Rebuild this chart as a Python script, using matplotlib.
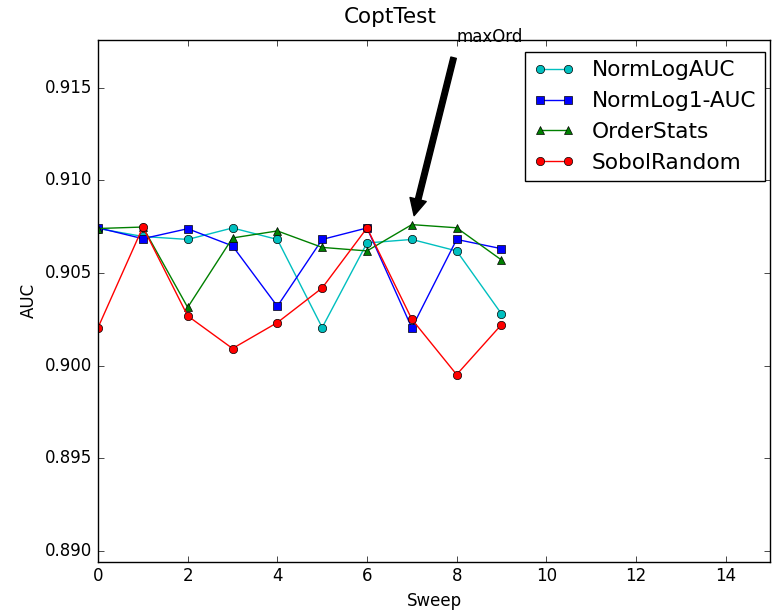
import numpy as np
import matplotlib
matplotlib.use("Agg")
import matplotlib.pyplot as plt

plt.style.use("classic")

sweep = list(range(10))
norm_log_auc = [0.9074, 0.90697, 0.90681, 0.90743, 0.90681, 0.90205, 0.90662, 0.90681, 0.90619, 0.90279]
norm_log1_auc = [0.90744, 0.90685, 0.90739, 0.90646, 0.9032, 0.90681, 0.90743, 0.90203, 0.90681, 0.90631]
order_stats = [0.9074, 0.90748, 0.90314, 0.90689, 0.90727, 0.90638, 0.90619, 0.90761, 0.90744, 0.9057]
sobol_random = [0.90205, 0.90748, 0.90268, 0.90092, 0.90232, 0.90419, 0.90743, 0.9025, 0.89951, 0.90221]

fig = plt.figure(figsize=(7.72, 6.10), dpi=100, facecolor="white")
ax = fig.add_axes([0.127, 0.079, 0.871, 0.856])

ax.plot(sweep, norm_log_auc, "c-o", label="NormLogAUC")
ax.plot(sweep, norm_log1_auc, "b-s", label="NormLog1-AUC")
ax.plot(sweep, order_stats, "g-^", label="OrderStats")
ax.plot(sweep, sobol_random, "r-o", label="SobolRandom")

ax.annotate("maxOrd", xy=(7, order_stats[7]), xytext=(8, 0.9175),
            arrowprops=dict(facecolor="black", shrink=0.05), annotation_clip=False)

ax.set_xlim(0, 15)
ax.set_ylim(0.8894, 0.9176)
ax.set_yticks([0.890, 0.895, 0.900, 0.905, 0.910, 0.915])
fig.text(0.505, 0.972, "CoptTest", ha="center", va="center", fontsize=15.5)
ax.set_xlabel("Sweep")
ax.set_ylabel("AUC")
ax.legend(loc="upper right", bbox_to_anchor=(0.992, 0.977), borderaxespad=0,
          prop={"size": 15.6}, handlelength=1.9)

fig.savefig("out.png", dpi=100, facecolor="white")
